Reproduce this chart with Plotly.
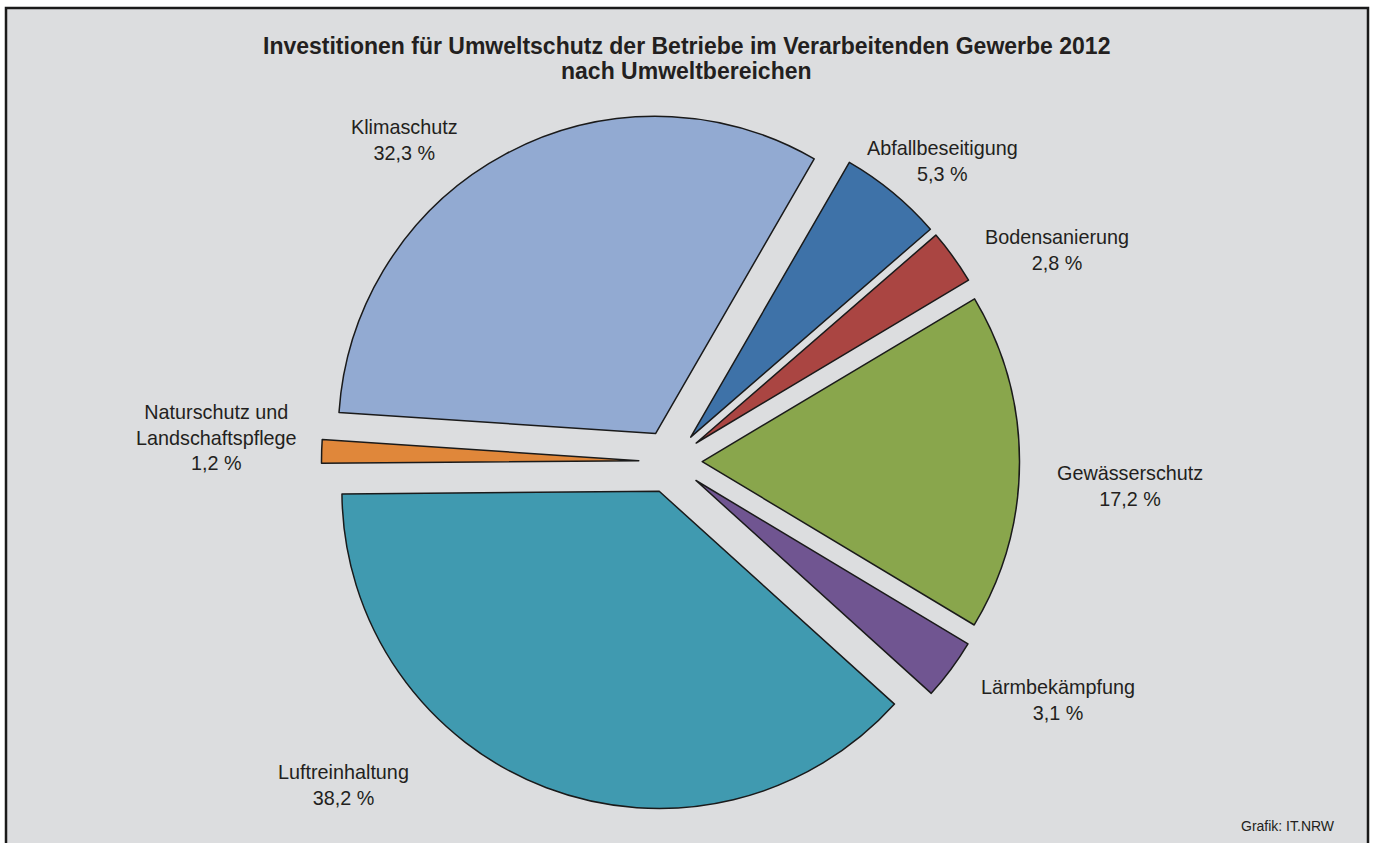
import plotly.graph_objects as go

# ---- data ----
categories = ["Abfallbeseitigung", "Bodensanierung", "Gewässerschutz", "Lärmbekämpfung",
              "Luftreinhaltung", "Naturschutz und<br>Landschaftspflege", "Klimaschutz"]
values = [5.3, 2.8, 17.2, 3.1, 38.2, 1.2, 32.3]
value_labels = ["5,3 %", "2,8 %", "17,2 %", "3,1 %", "38,2 %", "1,2 %", "32,3 %"]
colors = ["#3E72A8", "#AA4542", "#89A64C", "#705591", "#409AB0", "#E0873A", "#92AAD2"]

title_lines = ["Investitionen für Umweltschutz der Betriebe im Verarbeitenden Gewerbe 2012",
               "nach Umweltbereichen"]
source_text = "Grafik: IT.NRW"

# ---- layout helpers (pixel positions of label centres) ----
W, H = 1375, 843
label_px = [(943, 161), (1057, 250), (1130, 486), (1058, 700), (343, 785), (216, 437), (404, 140)]
title_line_y = [46, 71]

def px(x):
    return x / W

def py(y):
    return 1 - y / H

fig = go.Figure()
fig.add_trace(go.Pie(
    labels=categories,
    values=values,
    sort=False,
    direction="clockwise",
    rotation=30,
    pull=[0.1] * len(values),
    marker=dict(colors=colors, line=dict(color="#1a1a1a", width=1.5)),
    textinfo="none",
    hoverinfo="label+percent",
    showlegend=False,
    domain=dict(x=[px(670.5 - 349), px(670.5 + 349)], y=[py(461.6 + 349), py(461.6 - 349)]),
))

annotations = []
for cat, vl, (lx, ly) in zip(categories, value_labels, label_px):
    annotations.append(dict(
        text=f"{cat}<br>{vl}", x=px(lx), y=py(ly), xref="paper", yref="paper",
        xanchor="center", yanchor="middle", align="center", showarrow=False,
        font=dict(family="Arial, Liberation Sans, sans-serif", size=19.8, color="#231F20"),
    ))
for line, ty in zip(title_lines, title_line_y):
    annotations.append(dict(
        text="<b>" + line + "</b>", x=px(686), y=py(ty), xref="paper", yref="paper",
        xanchor="center", yanchor="middle", align="center", showarrow=False,
        font=dict(family="Arial, Liberation Sans, sans-serif", size=23, color="#231F20"),
    ))
annotations.append(dict(
    text=source_text, x=px(1337), y=py(826), xref="paper", yref="paper",
    xanchor="right", yanchor="middle", showarrow=False,
    font=dict(family="Arial, Liberation Sans, sans-serif", size=14, color="#231F20"),
))

fig.update_layout(
    width=W, height=H,
    margin=dict(l=0, r=0, t=0, b=0),
    paper_bgcolor="white",
    plot_bgcolor="white",
    annotations=annotations,
    shapes=[dict(type="rect", xref="paper", yref="paper",
                 x0=px(6), x1=px(1368), y0=-0.02, y1=py(8),
                 fillcolor="#DCDDDF", line=dict(color="#1a1a1a", width=2.5), layer="below")],
)

fig.write_html("out.html", config={"displayModeBar": False},
               post_script="document.body.style.margin='0';document.body.style.overflow='hidden';")
